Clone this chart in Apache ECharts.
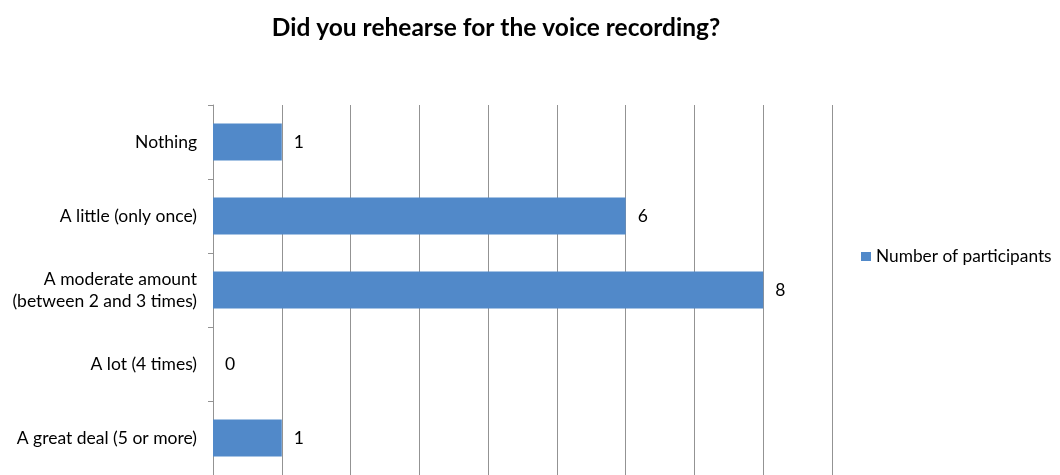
<!DOCTYPE html>
<html>
<head>
<meta charset="utf-8">
<script src="https://cdn.jsdelivr.net/npm/echarts@6/dist/echarts.min.js"></script>
<style>
  html, body { margin: 0; padding: 0; background: #ffffff; }
  #chart { width: 1060px; height: 475px; }
</style>
</head>
<body>
<div id="chart"></div>
<script>
// Survey answers, listed top to bottom as shown on the chart
const categories = [
  'Nothing',
  'A little (only once)',
  'A moderate amount\n(between 2 and 3 times)',
  'A lot (4 times)',
  'A great deal (5 or more)'
];
const participants = [1, 6, 8, 0, 1];
const seriesName = 'Number of participants';
const chartTitle = 'Did you rehearse for the voice recording?';

const FONT = 'Lato, "Open Sans", sans-serif';
const chart = echarts.init(document.getElementById('chart'));

chart.setOption({
  animation: false,
  backgroundColor: '#ffffff',
  title: {
    text: chartTitle,
    left: 491,
    textAlign: 'center',
    top: 11,
    textStyle: { fontFamily: FONT, fontSize: 24.5, fontWeight: 'bold', color: '#000' }
  },
  legend: {
    data: [seriesName],
    left: 856,
    top: 243,
    icon: 'rect',
    itemWidth: 10,
    itemHeight: 9,
    itemGap: 6,
    textStyle: { fontFamily: FONT, fontSize: 17.3, color: '#000' }
  },
  grid: { left: 213, right: 228, top: 105, bottom: -2, containLabel: false },
  xAxis: {
    type: 'value',
    min: 0,
    max: 9,
    interval: 1,
    axisLine: { show: false },
    axisTick: { show: false },
    axisLabel: { show: false },
    splitLine: { show: true, lineStyle: { color: '#939393', width: 1 } }
  },
  yAxis: {
    type: 'category',
    inverse: true,
    data: categories,
    axisLine: { show: true, lineStyle: { color: '#939393', width: 1 } },
    axisTick: { show: true, length: 5, lineStyle: { color: '#939393' } },
    axisLabel: {
      margin: 16,
      fontFamily: FONT,
      fontSize: 17.5,
      lineHeight: 22,
      color: '#000',
      align: 'right'
    }
  },
  series: [{
    name: seriesName,
    type: 'bar',
    data: participants,
    barCategoryGap: '50%',
    itemStyle: { color: '#5189c9' },
    label: {
      show: true,
      position: 'right',
      distance: 12,
      fontFamily: FONT,
      fontSize: 17.5,
      color: '#000'
    }
  }]
});
</script>
</body>
</html>
